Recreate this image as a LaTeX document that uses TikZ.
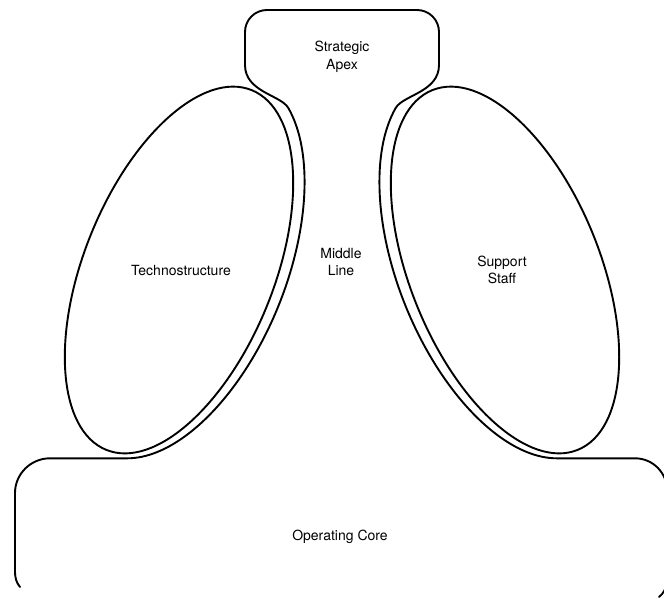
\documentclass[tikz,border=0pt]{standalone}
\usepackage{fontspec}
\setmainfont{TeX Gyre Heros}
\begin{document}
\begin{tikzpicture}[x=1pt,y=-1pt,
  outline/.style={line width=1.9pt, line join=round, line cap=round, black},
  lbl/.style={font=\fontsize{14}{17.5}\selectfont, align=center, inner sep=0pt}]
\useasboundingbox (0,0) rectangle (664,598);
\clip (0,0) rectangle (664,598);
% inner ellipses
\draw[outline, rotate around={-22:(179,270)}] (179,270) ellipse [x radius=95, y radius=194];
\draw[outline, rotate around={22:(505,270)}] (505,270) ellipse [x radius=95, y radius=194];
% outline of apex, middle line and operating core
\draw[outline]
  (20,587) .. controls (16,582) and (15,578) .. (15,570)
  -- (15,493)
  .. controls (15,474) and (30.7,458.3) .. (50,458.3)
  -- plot[variable=\t, domain=-78.25:68, samples=80, smooth]
     ({182 + 96.43*cos(\t) + 75.67*sin(\t)}, {267 + 38.96*cos(\t) - 187.29*sin(\t)})
  .. controls (280.8,94.95) and (245,92) .. (245,65)
  -- (245,32)
  .. controls (245,19.8) and (254.8,10) .. (267,10)
  -- (417,10)
  .. controls (429.2,10) and (439,19.8) .. (439,32)
  -- (439,65)
  .. controls (439,92) and (403.2,94.95) .. (395.7,107.95)
  -- plot[variable=\t, domain=-78.25:68, samples=80, smooth]
     ({502 - 96.43*cos(-10.25-\t) - 75.67*sin(-10.25-\t)}, {267 + 38.96*cos(-10.25-\t) - 187.29*sin(-10.25-\t)})
  -- (635,458.3)
  .. controls (652.7,458.3) and (667,472.6) .. (667,490.3)
  -- (667,580)
  .. controls (667,588) and (663,594) .. (659,597);
% labels
\node[lbl] (apex) at (342,57) {Strategic\\Apex};
\node[lbl] (middle) at (341,262) {Middle\\Line};
\node[lbl] (techno) at (181,270) {Technostructure};
\node[lbl] (support) at (502,270) {Support\\Staff};
\node[lbl] (core) at (340,537) {Operating Core};
\end{tikzpicture}
\end{document}
